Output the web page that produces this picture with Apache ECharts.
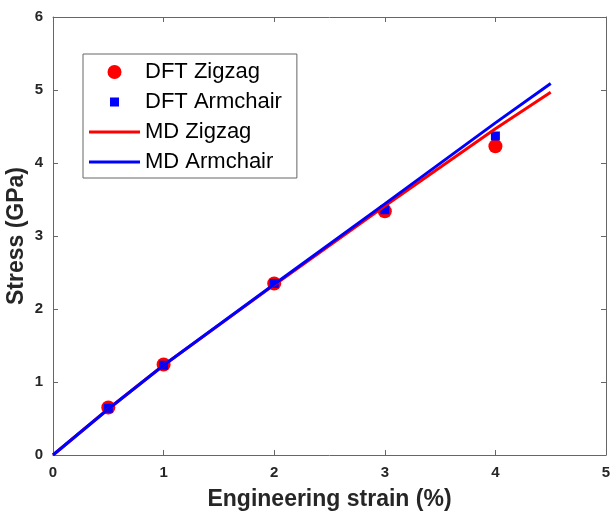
<!DOCTYPE html>
<html>
<head>
<meta charset="utf-8">
<script src="https://cdn.jsdelivr.net/npm/echarts@6/dist/echarts.min.js"></script>
<style>
html,body{margin:0;padding:0;background:#fff;}
#chart{width:611px;height:512px;}
</style>
</head>
<body>
<div id="chart"></div>
<script>
// data
const strain = [0.5, 1, 2, 3, 4]
const dftZigzag = [0.65, 1.24, 2.35, 3.34, 4.23]
const dftArmchair = [0.64, 1.23, 2.35, 3.36, 4.37]
const mdStrain = [0, 0.5, 1, 2, 3, 4, 4.5]
const mdZigzag = [0, 0.63, 1.23, 2.33, 3.41, 4.47, 4.97]
const mdArmchair = [0, 0.63, 1.23, 2.34, 3.44, 4.55, 5.09]

const seriesNames = ['DFT Zigzag', 'DFT Armchair', 'MD Zigzag', 'MD Armchair']
const RED = '#ff0000'
const BLUE = '#0000ff'
const AXIS = '#666666'
const FONT = '"Liberation Sans", Arial, sans-serif'

const pairs = (xs, ys) => xs.map((x, i) => [x, ys[i]])

const myEcharts = echarts.init(document.getElementById('chart'))

// box axes: bottom/left carry labels, top/right only ticks
const baseX = {
    type: 'value', min: 0, max: 5, interval: 1,
    axisLine: {show: true, onZero: false, lineStyle: {color: AXIS, width: 1}},
    axisTick: {show: true, inside: true, length: 5, lineStyle: {color: AXIS}},
    splitLine: {show: false}
}
const baseY = {
    type: 'value', min: 0, max: 6, interval: 1,
    axisLine: {show: true, onZero: false, lineStyle: {color: AXIS, width: 1}},
    axisTick: {show: true, inside: true, length: 5, lineStyle: {color: AXIS}},
    splitLine: {show: false}
}

const option = {
    backgroundColor: '#fff',
    animation: false,
    textStyle: {fontFamily: FONT},
    grid: {left: 53, right: 5, top: 17, bottom: 57, outerBoundsMode: 'none', containLabel: false},
    legend: {
        orient: 'vertical',
        left: 83,
        top: 54,
        padding: [7, 15, 5, 6],
        itemGap: 8,
        itemWidth: 51,
        itemHeight: 14,
        borderColor: '#666',
        borderWidth: 1,
        backgroundColor: '#fff',
        selectedMode: false,
        textStyle: {fontSize: 22, lineHeight: 22, color: '#000', fontFamily: FONT},
        data: [
            {name: seriesNames[0], icon: 'circle', itemStyle: {color: RED, opacity: 1}},
            {name: seriesNames[1], icon: 'path://M0,0M14,14M2.5,2.5h9v9h-9z', itemStyle: {color: BLUE, opacity: 1}},
            {name: seriesNames[2], icon: 'path://M0,0M51,14M0,5.5h51v3h-51z', itemStyle: {color: RED, opacity: 1}},
            {name: seriesNames[3], icon: 'path://M0,0M51,14M0,5.5h51v3h-51z', itemStyle: {color: BLUE, opacity: 1}}
        ]
    },
    xAxis: [
        Object.assign({}, baseX, {
            position: 'bottom',
            name: 'Engineering strain (%)',
            nameLocation: 'middle',
            nameGap: 33,
            nameMoveOverlap: false,
            nameTextStyle: {fontSize: 23, fontWeight: 'bold', color: '#262626', fontFamily: FONT},
            axisLabel: {show: true, margin: 10, fontSize: 15, fontWeight: 'bold', color: '#262626', fontFamily: FONT}
        }),
        Object.assign({}, baseX, {position: 'top', axisLabel: {show: false}})
    ],
    yAxis: [
        Object.assign({}, baseY, {
            position: 'left',
            name: 'Stress (GPa)',
            nameLocation: 'middle',
            nameGap: 25,
            nameMoveOverlap: false,
            nameTextStyle: {fontSize: 23, fontWeight: 'bold', color: '#262626', fontFamily: FONT},
            axisLabel: {show: true, margin: 10, fontSize: 15, fontWeight: 'bold', color: '#262626', fontFamily: FONT}
        }),
        Object.assign({}, baseY, {position: 'right', axisLabel: {show: false}})
    ],
    series: [
        {
            name: seriesNames[0],
            type: 'scatter',
            symbol: 'circle',
            symbolSize: 14,
            itemStyle: {color: RED, opacity: 1},
            data: pairs(strain, dftZigzag),
            z: 2
        },
        {
            name: seriesNames[1],
            type: 'scatter',
            symbol: 'rect',
            symbolSize: 9,
            itemStyle: {color: BLUE, opacity: 1},
            data: pairs(strain, dftArmchair),
            z: 3
        },
        {
            name: seriesNames[2],
            type: 'line',
            symbol: 'none',
            lineStyle: {color: RED, width: 3},
            itemStyle: {color: RED},
            data: pairs(mdStrain, mdZigzag),
            z: 4
        },
        {
            name: seriesNames[3],
            type: 'line',
            symbol: 'none',
            lineStyle: {color: BLUE, width: 3},
            itemStyle: {color: BLUE},
            data: pairs(mdStrain, mdArmchair),
            z: 5
        }
    ]
}

myEcharts.setOption(option)
</script>
</body>
</html>
